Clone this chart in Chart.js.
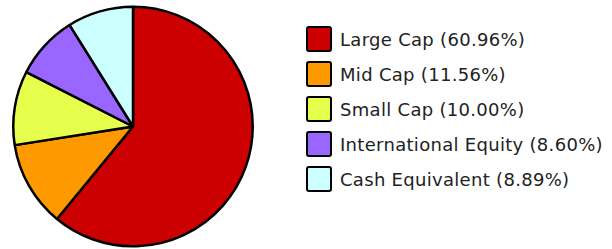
<!DOCTYPE html>
<html>
<head>
<meta charset="utf-8">
<script src="https://cdn.jsdelivr.net/npm/chart.js@4"></script>
<style>
  body { margin: 0; background: #fff; }
  #wrap { position: relative; width: 612px; height: 249px; }
  #pieBox { position: absolute; left: 0; top: 0; width: 266px; height: 249px; }
  #legend { position: absolute; left: 306px; top: 26px; margin: 0; padding: 0; list-style: none;
    font-family: "DejaVu Sans", Verdana, sans-serif; font-size: 18px; letter-spacing: 0.3px; color: #222; }
  #legend li { height: 26px; margin-bottom: 9px; display: flex; align-items: center; white-space: nowrap; }
  #legend span.box { display: inline-block; width: 22px; height: 22px; border: 2px solid #000; border-radius: 3px; margin-right: 8px; }
</style>
</head>
<body>
<div id="wrap">
  <div id="pieBox"><canvas id="pieChart"></canvas></div>
  <ul id="legend"></ul>
</div>
<script>
const labels = ['Large Cap', 'Mid Cap', 'Small Cap', 'International Equity', 'Cash Equivalent'];
const values = [60.96, 11.56, 10.00, 8.60, 8.89];
const colors = ['#cc0000', '#ff9900', '#e6ff4d', '#9966ff', '#ccffff'];

document.addEventListener('DOMContentLoaded', () => {
  // Pie
  const ctx = document.getElementById('pieChart').getContext('2d');
  new Chart(ctx, {
    type: 'pie',
    data: {
      labels: labels,
      datasets: [{
        data: values,
        backgroundColor: colors,
        borderColor: '#000',
        borderWidth: 2.5
      }]
    },
    options: {
      responsive: true,
      maintainAspectRatio: false,
      animation: false,
      layout: { padding: { top: 5, bottom: 1, left: 12, right: 12 } },
      plugins: {
        legend: { display: false },
        tooltip: { enabled: false }
      }
    }
  });

  // Legend
  const ul = document.getElementById('legend');
  labels.forEach((name, i) => {
    const li = document.createElement('li');
    const box = document.createElement('span');
    box.className = 'box';
    box.style.background = colors[i];
    li.appendChild(box);
    li.appendChild(document.createTextNode(name + ' (' + values[i].toFixed(2) + '%)'));
    ul.appendChild(li);
  });
});
</script>
</body>
</html>
